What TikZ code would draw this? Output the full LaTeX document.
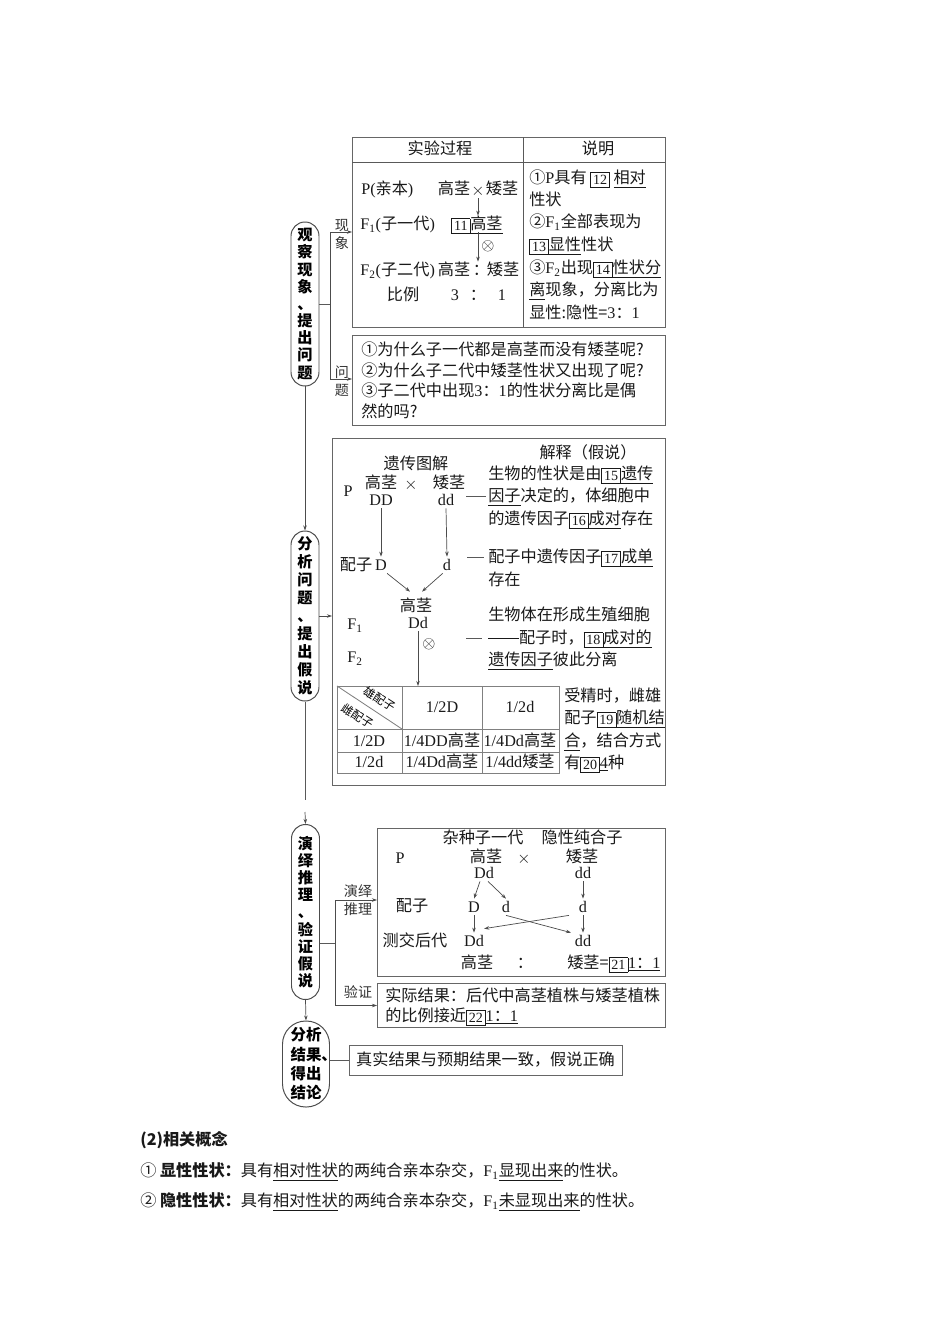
\documentclass[tikz,border=0pt]{standalone}
\usepackage{fontspec}
\setmainfont{Noto Sans CJK SC}
\newfontfamily\ltn{Liberation Serif}
\usetikzlibrary{arrows.meta}
\newcommand\eng[1]{{\ltn #1}}
\newcommand\bnum[1]{{\setlength\fboxsep{1.5pt}\setlength\fboxrule{0.45pt}\raisebox{-0.5pt}{\fbox{\ltn\fontsize{10}{10}\selectfont #1}}}}
\newcommand\ddash{\rule[0.32em]{1.9em}{0.5pt}}
\tikzset{
	frame/.style={draw=black!60, line width=0.7pt, inner sep=0pt},
	pill/.style={draw=black!70, line width=0.7pt, rounded corners=3.5mm, minimum width=7mm, align=center, inner sep=0pt, font=\bfseries\fontsize{10.8}{12.2}\selectfont},
	txt/.style={inner sep=0pt, text height=9.8pt, text depth=1.7pt, font=\fontsize{11.5}{13}\selectfont, text=black!90},
	lft/.style={txt, anchor=west},
	tag/.style={inner sep=0pt, align=center, font=\fontsize{10}{12.8}\selectfont, text=black!80},
	arr/.style={-{Stealth[length=3.6pt,width=2.5pt]}, draw=black!70, line width=0.5pt},
	ln/.style={draw=black!65, line width=0.6pt}
}

\begin{document}
\begin{tikzpicture}[x=0.25mm, y=-0.25mm]
			%%%%% START %%%%%
			\fill[white] (0,0) rectangle (950,1344);
			\useasboundingbox (0,0) rectangle (950,1344);
			
			% the four steps
			\node[pill, minimum height=41mm] (obs) at (305,304) {观\\察\\现\\象\\、\\提\\出\\问\\题};
			\node[pill, minimum height=42.5mm, font=\bfseries\fontsize{10.8}{12.8}\selectfont] (ana) at (305,616) {分\\析\\问\\题\\、\\提\\出\\假\\说};
			\node[pill, minimum height=43.75mm] (dedp) at (305.5,912) {演\\绎\\推\\理\\、\\验\\证\\假\\说};
			\node[pill, minimum width=11.75mm, minimum height=21.5mm, rounded corners=5.8mm, align=left, font=\bfseries\fontsize{11}{13.7}\selectfont] (conc) at (306,1064) {分析\\结果\rlap{、}\\得出\\结论};
			
			\coordinate (cut) at (305,800);
			\coordinate (cont) at (305,812);
			\draw[arr] (obs.south) -- (ana.north);
			\draw[ln] (ana.south) -- (cut);
			\draw[arr] (cont) -- (dedp.north);
			\draw[arr] (dedp.south) -- (conc.north);
			
			% observation
			\node[frame, anchor=north west, minimum width=78.25mm, minimum height=47.5mm] (expbox) at (352,137) {};
			\draw[ln] (352,162) -- (665,162);
			\draw[ln] (523,137) -- (523,327);
			\node[txt] (h1) at (440,149) {实验过程};
			\node[txt] (h2) at (598,149) {说明};
			
			\node[lft] (pp) at (361,189) {\eng{P(}亲本\eng{)}};
			\node[txt] (pt) at (454,189) {高茎};
			\node[txt] (px) at (478,190) {$\times$};
			\node[txt] (pd) at (502,189) {矮茎};
			\node[lft] (f1) at (360,224) {\eng{F\textsubscript{1}(}子一代\eng{)}};
			\node[lft] (f1t) at (451,224) {\bnum{11}\underline{高茎}};
			\node[lft] (f2) at (360,270) {\eng{F\textsubscript{2}(}子二代\eng{)}};
			\node[txt] (f2t) at (454,270) {高茎};
			\node[txt] (f2c) at (481,270) {：};
			\node[txt] (f2d) at (503,270) {矮茎};
			\node[txt] (rt) at (403,295) {比例};
			\node[txt] (r3) at (455,295) {\eng{3}};
			\node[txt] (rc) at (478,295) {：};
			\node[txt] (r1) at (502,295) {\eng{1}};
			\draw[arr] (px.south) -- (px.south |- f1t.north);
			\draw[arr] (f1t.south -| px) -- (px |- f2t.north);
			\node[txt] (self1) at (488,245) {$\otimes$};
			
			\node[lft] (e1) at (529,178) {①\eng{P}具有 \bnum{12} \underline{相对}};
			\node[lft] (e2) at (529,200) {性状};
			\node[lft] (e3) at (529,222) {②\eng{F\textsubscript{1}}全部表现为};
			\node[lft] (e4) at (529,245) {\bnum{13}\underline{显性}性状};
			\node[lft] (e5) at (529,268) {③\eng{F\textsubscript{2}}出现\bnum{14}\underline{性状分}};
			\node[lft] (e6) at (529,290) {\underline{离}现象，分离比为};
			\node[lft] (e7) at (529,313) {显性:隐性=\eng{3}：\eng{1}};
			
			\node[frame, anchor=north west, minimum width=78.25mm, minimum height=22.5mm] (qbox) at (352,335) {};
			\node[lft] (q1) at (361,350) {①为什么子一代都是高茎而没有矮茎呢?};
			\node[lft] (q2) at (361,371) {②为什么子二代中矮茎性状又出现了呢?};
			\node[lft] (q3) at (361,391) {③子二代中出现\eng{3}：\eng{1}的性状分离比是偶};
			\node[lft] (q4) at (361,412) {然的吗?};
			
			\coordinate (j1) at (330,304);
			\draw[ln] (obs.east) -- (j1);
			\draw[arr] (j1) |- (expbox.west |- 0,232);
			\draw[arr] (j1) |- (qbox.west |- 0,379);
			\node[tag] (lb1) at (342,234) {现\\象};
			\node[tag] (lb2) at (342,381) {问\\题};
			
			% hypothesis
			\node[frame, anchor=north west, minimum width=83.25mm, minimum height=86.75mm] (hypbox) at (332,438) {};
			\draw[arr] (ana.east) -- (hypbox.west |- ana.east);
			\node[txt] (gt) at (416,464) {遗传图解};
			\node[txt] (jt) at (588,453) {解释（假说）};
			\node[txt] (hp) at (348,491) {\eng{P}};
			\node[txt] (ht) at (381,483) {高茎};
			\node[txt] (hx) at (411,484) {$\times$};
			\node[txt] (hd) at (449,483) {矮茎};
			\node[txt] (hDD) at (381,500) {\eng{DD}};
			\node[txt] (hdd) at (446,500) {\eng{dd}};
			\node[txt] (gm) at (356,565) {配子};
			\node[txt] (gD) at (381,565) {\eng{D}};
			\node[txt] (gd) at (447,565) {\eng{d}};
			\node[txt] (ft) at (416,606) {高茎};
			\node[txt] (fDd) at (418,623) {\eng{Dd}};
			\node[txt] (hf1) at (355,624) {\eng{F\textsubscript{1}}};
			\node[txt] (hf2) at (355,657) {\eng{F\textsubscript{2}}};
			\node[txt] (hself) at (429,643) {$\otimes$};
			\coordinate (tabtop) at (418,686);
			\draw[arr] (hDD.south) -- (gD.north);
			\draw[arr] (hdd.south) -- (gd.north);
			\draw[arr] (gD.south east) -- ([xshift=-1.5mm,yshift=1.5mm]ft.north);
			\draw[arr] (gd.south west) -- ([xshift=1.5mm,yshift=1.5mm]ft.north);
			\draw[arr] (fDd.south) -- (tabtop);
			
			\node[lft] (x1) at (488,474) {生物的性状是由\bnum{15}\underline{遗传}};
			\node[lft] (x2) at (488,496) {\underline{因子}决定的，体细胞中};
			\node[lft] (x3) at (488,519) {的遗传因子\bnum{16}\underline{成对}存在};
			\node[lft] (x4) at (488,557) {配子中遗传因子\bnum{17}\underline{成单}};
			\node[lft] (x5) at (488,580) {存在};
			\node[lft] (x6) at (488,615) {生物体在形成生殖细胞};
			\node[lft] (x7) at (488,638) {\ddash 配子时，\bnum{18}\underline{成对的}};
			\node[lft] (x8) at (488,660) {\underline{遗传因子}彼此分离};
			\draw[ln] ([xshift=-5.5mm]x2.west) -- ([xshift=-0.5mm]x2.west);
			\draw[ln] ([xshift=-5.25mm]x4.west) -- ([xshift=-1mm]x4.west);
			\draw[ln] ([xshift=-5.5mm]x7.west) -- ([xshift=-1.5mm]x7.west);
			
			\draw[ln, draw=black!50] (337,686) rectangle (559,773);
			\draw[ln, draw=black!50] (402,686) -- (402,773);
			\draw[ln, draw=black!50] (482,686) -- (482,773);
			\draw[ln, draw=black!50] (337,729) -- (559,729);
			\draw[ln, draw=black!50] (337,752) -- (559,752);
			\draw[ln, draw=black!50] (337,686) -- (402,729);
			\node[inner sep=0pt, font=\fontsize{8.3}{9}\selectfont, rotate=-33] (male) at (380,699) {雄配子};
			\node[inner sep=0pt, font=\fontsize{8.3}{9}\selectfont, rotate=-33] (fem) at (358,716) {雌配子};
			\node[txt] (c01) at (442,707) {\eng{1/2D}};
			\node[txt] (c02) at (520,707) {\eng{1/2d}};
			\node[txt] (c10) at (369,741) {\eng{1/2D}};
			\node[txt] (c11) at (442,741) {\eng{1/4DD}高茎};
			\node[txt] (c12) at (520,741) {\eng{1/4Dd}高茎};
			\node[txt] (c20) at (369,762) {\eng{1/2d}};
			\node[txt] (c21) at (442,762) {\eng{1/4Dd}高茎};
			\node[txt] (c22) at (520,762) {\eng{1/4dd}矮茎};
			
			\node[lft] (y1) at (564,696) {受精时，雌雄};
			\node[lft] (y2) at (564,718) {配子\bnum{19}\underline{随机结}};
			\node[lft] (y3) at (564,741) {\underline{合}，结合方式};
			\node[lft] (y4) at (564,763) {有\bnum{20}\underline{\eng{4}}种};
			
			% deduction and test
			\node[frame, anchor=north west, minimum width=72mm, minimum height=37mm] (testbox) at (377,828) {};
			\node[frame, anchor=north west, minimum width=72mm, minimum height=11mm] (verbox) at (377,983) {};
			\coordinate (j3) at (335,943);
			\draw[ln] (dedp.east |- j3) -- (j3);
			\draw[arr] (j3) |- (testbox.west |- 0,900);
			\draw[arr] (j3) |- (verbox.west);
			\node[tag] (lb3) at (358,900) {演绎\\推理};
			\node[tag] (lb4) at (358,992) {验证};
			
			\node[txt] (tz1) at (483,838) {杂种子一代};
			\node[txt] (tz2) at (582,838) {隐性纯合子};
			\node[txt] (tp) at (400,858) {\eng{P}};
			\node[txt] (tt) at (486,857) {高茎};
			\node[txt] (tx) at (524,858) {$\times$};
			\node[txt] (td) at (582,857) {矮茎};
			\node[txt] (tDd) at (484,873) {\eng{Dd}};
			\node[txt] (tdd) at (583,873) {\eng{dd}};
			\node[txt] (tg) at (412,906) {配子};
			\node[txt] (tgD) at (474,907) {\eng{D}};
			\node[txt] (tgd1) at (506,907) {\eng{d}};
			\node[txt] (tgd2) at (583,907) {\eng{d}};
			\node[txt] (tc) at (415,941) {测交后代};
			\node[txt] (tcD) at (474,941) {\eng{Dd}};
			\node[txt] (tcd) at (583,941) {\eng{dd}};
			\node[txt] (tr1) at (477,963) {高茎};
			\node[txt] (tr2) at (525,963) {：};
			\node[lft] (tr3) at (567,963) {矮茎=\bnum{21}\underline{\eng{1}：\eng{1}}};
			\draw[arr] ([xshift=-1mm]tDd.south) -- (tgD.north);
			\draw[arr] ([xshift=1mm]tDd.south) -- (tgd1.north);
			\draw[arr] (tdd.south) -- (tgd2.north);
			\draw[arr] (tgD.south) -- (tcD.north);
			\draw[arr] (tgd1.south) -- ([xshift=-3mm]tcd.north);
			\draw[arr] ([xshift=-3.5mm]tgd2.south) -- ([yshift=1mm]tcD.north east);
			\draw[arr] (tgd2.south) -- (tcd.north);
			
			\node[lft] (v1) at (385,996) {实际结果：后代中高茎植株与矮茎植株};
			\node[lft] (v2) at (385,1016) {的比例接近\bnum{22}\underline{\eng{1}：\eng{1}}};
			
			% conclusion
			\node[frame, txt, minimum width=68.25mm, minimum height=7.5mm] (resbox) at (485.5,1060) {真实结果与预期结果一致，假说正确};
			\draw[ln] (conc.east |- resbox.west) -- (resbox.west);
			
			% concepts below
			\node[lft, font=\bfseries\fontsize{11.5}{13}\selectfont] (sec) at (140,1140) {(2)相关概念};
			\node[lft] (d1) at (140,1171) {① \textbf{显性性状：}具有\underline{相对性状}的两纯合亲本杂交，\eng{F\textsubscript{1}}\underline{显现出来}的性状。};
			\node[lft] (d2) at (140,1201) {② \textbf{隐性性状：}具有\underline{相对性状}的两纯合亲本杂交，\eng{F\textsubscript{1}}\underline{未显现出来}的性状。};
			
			%%%%% END %%%%%
\end{tikzpicture}
\end{document}
